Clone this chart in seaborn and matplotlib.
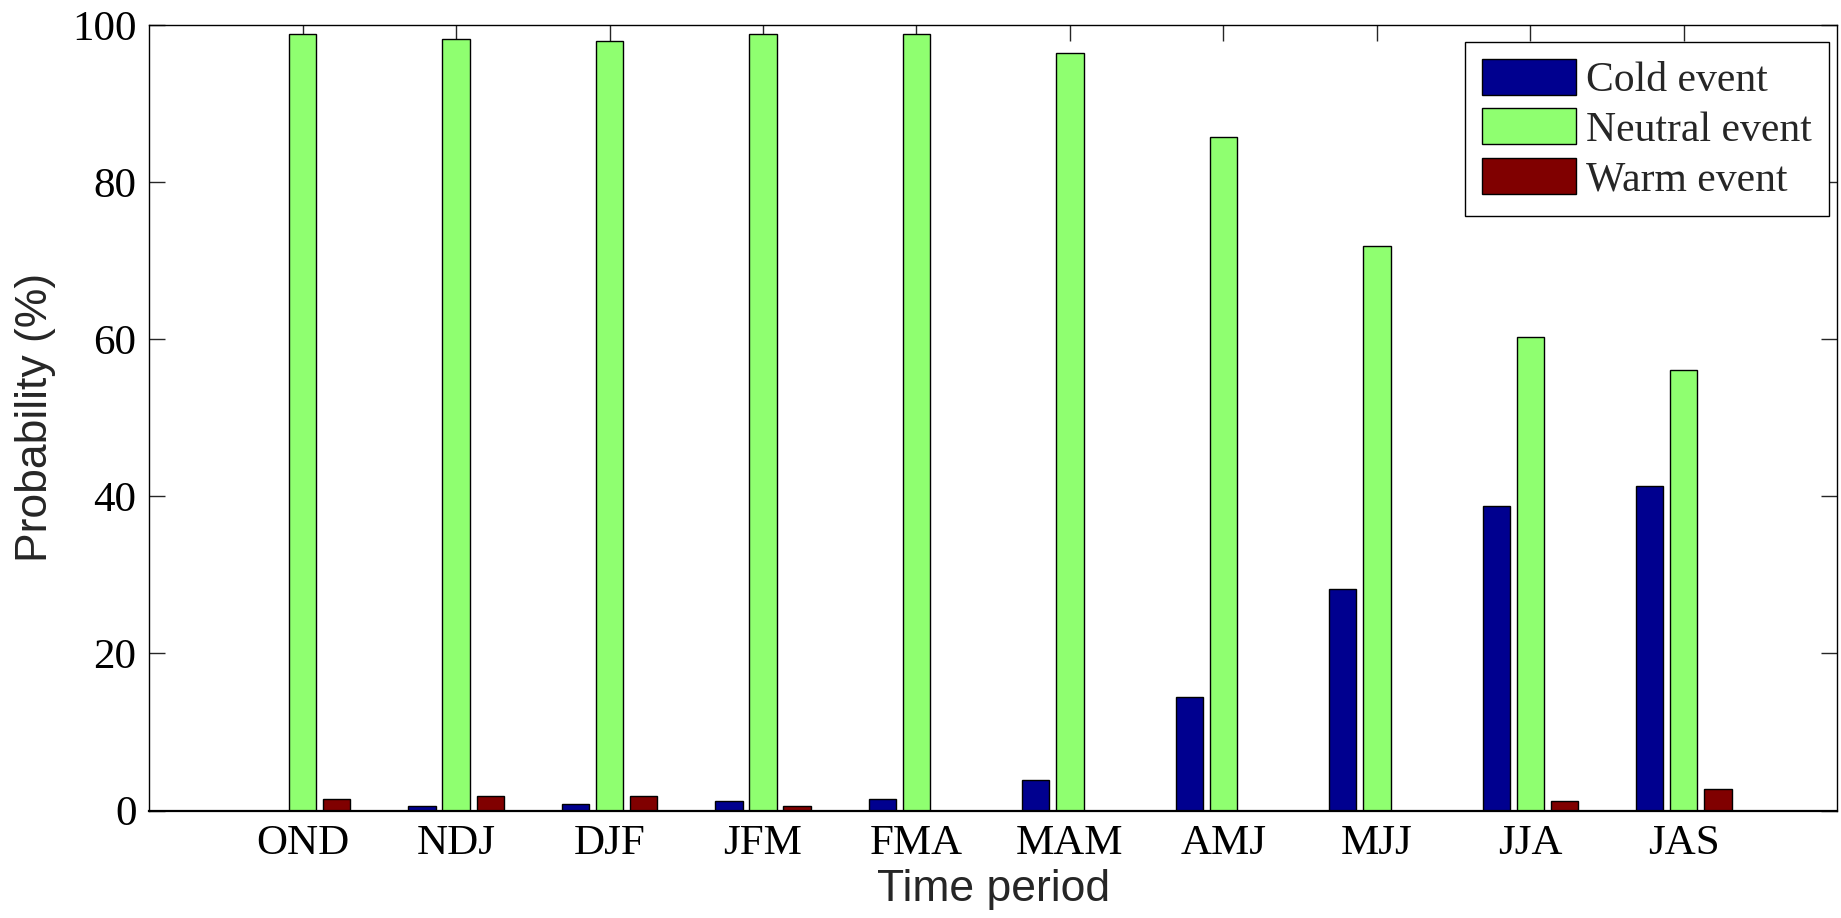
# Probability of cold / neutral / warm events per 3-month period
import pandas as pd
import matplotlib
matplotlib.use("Agg")
import matplotlib.pyplot as plt
import seaborn as sns

# Data
periods = ["OND", "NDJ", "DJF", "JFM", "FMA", "MAM", "AMJ", "MJJ", "JJA", "JAS"]
events = ["Cold event", "Neutral event", "Warm event"]
cold = [0.0, 0.6, 0.8, 1.2, 1.5, 3.9, 14.5, 28.2, 38.7, 41.3]
neutral = [98.8, 98.2, 97.9, 98.8, 98.8, 96.4, 85.7, 71.9, 60.3, 56.1]
warm = [1.5, 1.8, 1.8, 0.6, 0.0, 0.0, 0.0, 0.0, 1.2, 2.7]
colors = ["#00008F", "#8FFF70", "#800000"]

df = pd.DataFrame({
    "period": periods * 3,
    "event": [events[0]] * 10 + [events[1]] * 10 + [events[2]] * 10,
    "prob": cold + neutral + warm,
})

sns.set_theme(style="white")
plt.rcParams["font.family"] = ["Liberation Serif", "DejaVu Serif"]

fig = plt.figure(figsize=(18.41, 9.18), dpi=100)
ax = fig.add_axes([0.081, 0.117, 0.917, 0.856])

sns.barplot(data=df, x="period", y="prob", hue="event", palette=colors,
            saturation=1, width=0.667, gap=0.2, errorbar=None,
            edgecolor="black", linewidth=1, ax=ax)

ax.set_xlim(-1, 10)
ax.set_ylim(0, 100)
ax.set_yticks([0, 20, 40, 60, 80, 100])

ax.tick_params(axis="both", direction="in", length=11.5, width=1,
               color="0.15", labelsize=31, labelcolor="black")
ax.tick_params(axis="x", top=True, bottom=True, pad=10)
ax.tick_params(axis="y", left=True, right=True, pad=9)

for s in ax.spines.values():
    s.set_color("black")
    s.set_linewidth(1)
ax.spines["bottom"].set_linewidth(1.6)

ax.set_xlabel("Time period", fontsize=32, family=["Liberation Sans"], labelpad=4)
ax.set_ylabel("Probability (%)", fontsize=32, family=["Liberation Sans"])
ax.yaxis.set_label_coords(-0.055, 0.5)

handles, labels = ax.get_legend_handles_labels()
leg = ax.legend(handles, labels, loc="upper right", bbox_to_anchor=(0.995, 0.978),
                borderaxespad=0, fontsize=30, frameon=True, fancybox=False,
                framealpha=1, edgecolor="black", handlelength=2.25,
                handleheight=0.95, handletextpad=0.26, labelspacing=0.2,
                borderpad=0.4)
leg.get_frame().set_linewidth(1)

fig.savefig("out.png", dpi=100)
